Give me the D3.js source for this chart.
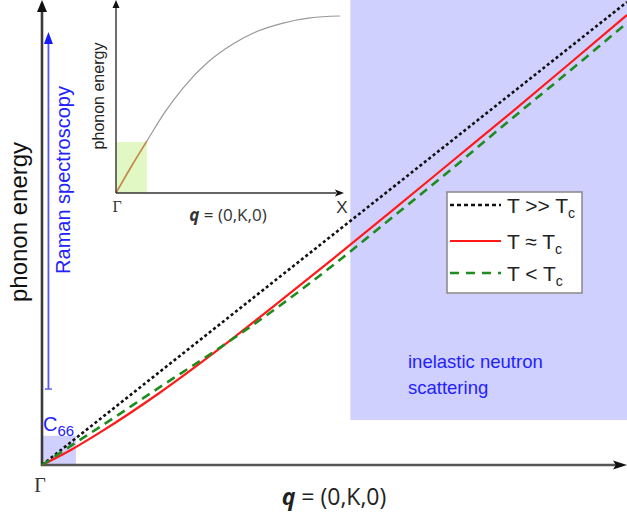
<!DOCTYPE html>
<html>
<head>
<meta charset="utf-8">
<script src="https://cdn.jsdelivr.net/npm/d3@7"></script>
<style>
  body { margin: 0; background: #fff; }
  svg { display: block; font-family: "Liberation Sans", Arial, sans-serif; }
</style>
</head>
<body>
<svg id="chart"></svg>
<script>
// wave vector q (fraction of the zone) and phonon energies (arb. units)
var qGrid   = [0, 0.05, 0.1, 0.2, 0.3, 0.4, 0.5, 0.6, 0.7, 0.8, 0.9, 1.0];
var eHigh   = [0, 0.05, 0.1, 0.2, 0.3, 0.4, 0.5, 0.6, 0.7, 0.8, 0.9, 1.0];          // T >> Tc
var eNear   = [0, 0.033, 0.071, 0.155, 0.248, 0.347, 0.448, 0.551, 0.655, 0.759, 0.865, 0.972]; // T ~ Tc
var eBelow  = [0, 0.042, 0.083, 0.167, 0.250, 0.338, 0.434, 0.536, 0.639, 0.745, 0.849, 0.955]; // T < Tc

// inset: full dispersion Gamma -> X
var insetQ  = [0, 0.067, 0.138, 0.219, 0.299, 0.411, 0.522, 0.634, 0.746, 0.866, 1.0];
var insetE  = [0, 0.147, 0.294, 0.458, 0.593, 0.740, 0.842, 0.915, 0.960, 0.989, 1.0];

var legendLabels = [["T >> T", "c"], ["T \u2248 T", "c"], ["T < T", "c"]];

// measured ranges (data units)
var neutronQ = [0.527, 1.0], neutronE = [0.097, 1.01];
var c66Q = [0, 0.058], c66E = [0, 0.063];
var ramanQ = 0.011, ramanE = [0.164, 0.935];
var insetBoxQ = [0, 0.138], insetBoxE = [0, 0.288];

var W = 627, H = 517;
var svg = d3.select("#chart").attr("width", W).attr("height", H);

var x = d3.scaleLinear().domain([0, 1]).range([42, 627]);
var y = d3.scaleLinear().domain([0, 1]).range([465, 2]);
var xi = d3.scaleLinear().domain([0, 1]).range([116, 340]);
var yi = d3.scaleLinear().domain([0, 1]).range([193, 16]);

var regionFill = "#d0d0ff";
var blue = "#2222ff";

// shaded regions
svg.append("rect")
  .attr("x", x(neutronQ[0])).attr("y", y(neutronE[1]))
  .attr("width", x(neutronQ[1]) - x(neutronQ[0]))
  .attr("height", y(neutronE[0]) - y(neutronE[1]))
  .style("fill", regionFill);
svg.append("rect")
  .attr("x", x(c66Q[0])).attr("y", y(c66E[1]))
  .attr("width", x(c66Q[1]) - x(c66Q[0]))
  .attr("height", y(c66E[0]) - y(c66E[1]))
  .style("fill", regionFill);

function arrowHead(g, tx, ty, dir, len, half, color){
  var p;
  if(dir == "up") p = [[tx, ty], [tx-half, ty+len], [tx+half, ty+len]];
  else p = [[tx, ty], [tx-len, ty-half], [tx-len*0.8, ty], [tx-len, ty+half]];
  g.append("path").attr("d", "M" + p.join("L") + "Z").style("fill", color);
}

// ---------- inset ----------
var inset = svg.append("g");
inset.append("rect")
  .attr("x", xi(insetBoxQ[0])).attr("y", yi(insetBoxE[1]))
  .attr("width", xi(insetBoxQ[1]) - xi(insetBoxQ[0]))
  .attr("height", yi(insetBoxE[0]) - yi(insetBoxE[1]))
  .style("fill", "#e2f8c4");

var insetLine = d3.line().curve(d3.curveMonotoneX)
  .x(function(d){ return xi(d[0]); }).y(function(d){ return yi(d[1]); });
var insetPts = insetQ.map(function(q, i){ return [q, insetE[i]]; });
inset.append("path").attr("d", insetLine(insetPts))
  .style("fill", "none").style("stroke", "#999").style("stroke-width", 1.2);
inset.append("path").attr("d", insetLine(insetPts.slice(0, 3)))
  .style("fill", "none").style("stroke", "#c98a4a").style("stroke-width", 1.6);

inset.append("line").attr("x1", xi(0)).attr("y1", yi(0)).attr("x2", xi(0)).attr("y2", 6)
  .style("stroke", "#333").style("stroke-width", 1.4);
inset.append("line").attr("x1", xi(0)).attr("y1", yi(0)).attr("x2", 336).attr("y2", yi(0))
  .style("stroke", "#333").style("stroke-width", 1.4);
arrowHead(inset, xi(0), 0, "up", 8, 3.5, "#111");
arrowHead(inset, 344, yi(0), "right", 9, 3.5, "#111");

inset.append("text").attr("transform", "translate(104,96) rotate(-90)")
  .attr("text-anchor", "middle").style("font-size", "16px").style("fill", "#222")
  .text("phonon energy");
inset.append("text").attr("x", xi(0) + 1).attr("y", 212).attr("text-anchor", "middle")
  .style("font-family", "'Liberation Serif', serif").style("font-size", "16px").style("fill", "#333")
  .text("\u0393");
inset.append("text").attr("x", 342).attr("y", 213).attr("text-anchor", "middle")
  .style("font-size", "17px").style("fill", "#333").text("X");
var iq = inset.append("text").attr("x", 228).attr("y", 221).attr("text-anchor", "middle")
  .style("font-family", "'Open Sans', sans-serif").style("font-size", "17px").style("fill", "#333");
iq.append("tspan").style("font-weight", "bold").style("font-style", "italic").text("q");
iq.append("tspan").text(" = (0,K,0)");

// ---------- main dispersion lines ----------
var line = d3.line().curve(d3.curveMonotoneX)
  .x(function(d){ return x(d[0]); }).y(function(d){ return y(d[1]); });
function pts(arr){ return qGrid.map(function(q, i){ return [q, arr[i]]; }); }

var series = [
  {vals: eHigh,  color: "#111",    width: 2.6, dash: "3,2.6"},
  {vals: eNear,  color: "#ff1a1a", width: 2.2, dash: null},
  {vals: eBelow, color: "#1e8c1e", width: 2.6, dash: "9,6"}
];

// main axes
svg.append("line").attr("x1", x(0)).attr("y1", y(0) + 1).attr("x2", x(0)).attr("y2", 8)
  .style("stroke", "#3a3a3a").style("stroke-width", 2.6);
svg.append("line").attr("x1", x(0) - 1).attr("y1", y(0)).attr("x2", 616).attr("y2", y(0))
  .style("stroke", "#555").style("stroke-width", 2.6);
arrowHead(svg, x(0), 0, "up", 12, 5, "#111");
arrowHead(svg, 627, y(0), "right", 14, 4.5, "#111");

series.forEach(function(s){
  svg.append("path").attr("d", line(pts(s.vals)))
    .style("fill", "none").style("stroke", s.color)
    .style("stroke-width", s.width)
    .style("stroke-dasharray", s.dash);
});

// Raman arrow
var rx = x(ramanQ);
svg.append("line").attr("x1", rx).attr("y1", y(ramanE[0])).attr("x2", rx).attr("y2", y(ramanE[1]) + 8)
  .style("stroke", "#5555ff").style("stroke-width", 1.8);
svg.append("line").attr("x1", rx - 3.5).attr("y1", y(ramanE[0])).attr("x2", rx + 3.5).attr("y2", y(ramanE[0]))
  .style("stroke", "#5555ff").style("stroke-width", 1.4);
arrowHead(svg, rx, y(ramanE[1]), "up", 12, 4.5, "#1a1aff");
svg.append("text").attr("transform", "translate(70,180) rotate(-90)")
  .attr("text-anchor", "middle").style("font-size", "20px").style("fill", blue)
  .text("Raman spectroscopy");

// labels
svg.append("text").attr("transform", "translate(27,222) rotate(-90)")
  .attr("text-anchor", "middle").style("font-size", "24px").style("fill", "#111")
  .text("phonon energy");

var c66 = svg.append("text").attr("x", 43).attr("y", 431)
  .style("font-size", "20px").style("fill", blue);
c66.append("tspan").text("C");
c66.append("tspan").attr("dy", 5).style("font-size", "15px").text("66");

svg.append("text").attr("x", 40).attr("y", 492).attr("text-anchor", "middle")
  .style("font-family", "'Liberation Serif', serif").style("font-size", "20px").style("fill", "#333")
  .text("\u0393");

var mq = svg.append("text").attr("x", 334).attr("y", 505).attr("text-anchor", "middle")
  .style("font-family", "'Open Sans', sans-serif").style("font-size", "23px").style("fill", "#222");
mq.append("tspan").style("font-weight", "bold").style("font-style", "italic").text("q");
mq.append("tspan").text(" = (0,K,0)");

var ins = svg.append("text").style("font-size", "18.5px").style("fill", blue);
ins.append("tspan").attr("x", 408).attr("y", 368).text("inelastic neutron");
ins.append("tspan").attr("x", 408).attr("y", 394).text("scattering");

// legend
var lg = svg.append("g").attr("transform", "translate(447,192)");
lg.append("rect").attr("width", 135).attr("height", 101)
  .style("fill", "#fff").style("stroke", "#888").style("stroke-width", 1.5);
var rowY = [13, 49, 81];
series.forEach(function(s, i){
  lg.append("line").attr("x1", 3).attr("x2", 54).attr("y1", rowY[i]).attr("y2", rowY[i])
    .style("stroke", s.color).style("stroke-width", s.width)
    .style("stroke-dasharray", i == 0 ? "4,3" : (i == 2 ? "9,7" : null));
  var t = lg.append("text").attr("x", 60).attr("y", rowY[i] + 8)
    .style("font-size", "21px").style("fill", "#222");
  t.append("tspan").text(legendLabels[i][0]);
  t.append("tspan").attr("dy", 5).style("font-size", "14px").text(legendLabels[i][1]);
});
</script>
</body>
</html>
